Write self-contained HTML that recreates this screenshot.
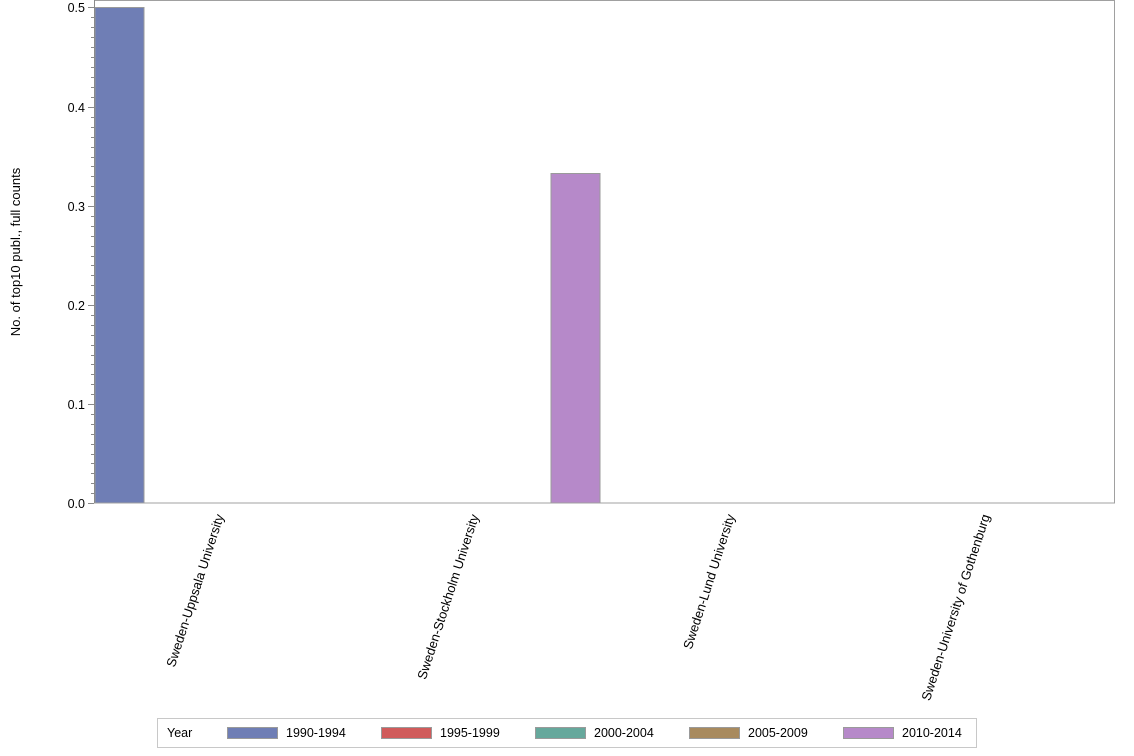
<!DOCTYPE html>
<html><head><style>
html,body{margin:0;padding:0;background:#fff;}
svg{display:block;font-family:"Liberation Sans",Arial,sans-serif;}
</style></head><body>
<svg width="1134" height="756" viewBox="0 0 1134 756" xmlns="http://www.w3.org/2000/svg">
<rect x="0" y="0" width="1134" height="756" fill="#fff"/>
<rect x="95" y="7.5" width="49" height="495.5" fill="#6f7eb5" stroke="#9a9a9a" stroke-width="1"/>
<rect x="551" y="173.5" width="49" height="329.5" fill="#b689c9" stroke="#9a9a9a" stroke-width="1"/>
<rect x="94.5" y="0.5" width="1020" height="502.5" fill="none" stroke="#a0a0a0" stroke-width="1"/>
<g stroke="#8a8a8a" stroke-width="1">
<line x1="94.5" y1="0" x2="94.5" y2="503"/>
<line x1="88" y1="503.5" x2="94" y2="503.5"/>
<line x1="88" y1="404.5" x2="94" y2="404.5"/>
<line x1="88" y1="305.5" x2="94" y2="305.5"/>
<line x1="88" y1="206.5" x2="94" y2="206.5"/>
<line x1="88" y1="107.5" x2="94" y2="107.5"/>
<line x1="88" y1="7.5" x2="94" y2="7.5"/>
</g>
<g font-size="12.5" fill="#000" text-anchor="end">
<text x="85" y="508">0.0</text>
<text x="85" y="409">0.1</text>
<text x="85" y="310">0.2</text>
<text x="85" y="211">0.3</text>
<text x="85" y="112">0.4</text>
<text x="85" y="12">0.5</text>
</g>
<text transform="translate(20,252) rotate(-90)" font-size="13" text-anchor="middle">No. of top10 publ., full counts</text>
<g font-size="13" text-anchor="end">
<text transform="translate(224,516) rotate(-72)">Sweden-Uppsala University</text>
<text transform="translate(479,516) rotate(-72)">Sweden-Stockholm University</text>
<text transform="translate(735,516) rotate(-72)">Sweden-Lund University</text>
<text transform="translate(990,516) rotate(-72)">Sweden-University of Gothenburg</text>
</g>
<rect x="157.5" y="718.5" width="819" height="29" fill="#fff" stroke="#c8c8c8"/>
<g font-size="12.5">
<text x="167" y="737">Year</text>
<rect x="227.5" y="727.5" width="50" height="11" fill="#6f7eb5" stroke="#9a9a9a"/>
<text x="286" y="737">1990-1994</text>
<rect x="381.5" y="727.5" width="50" height="11" fill="#d05b5b" stroke="#9a9a9a"/>
<text x="440" y="737">1995-1999</text>
<rect x="535.5" y="727.5" width="50" height="11" fill="#66a89c" stroke="#9a9a9a"/>
<text x="594" y="737">2000-2004</text>
<rect x="689.5" y="727.5" width="50" height="11" fill="#a88a5e" stroke="#9a9a9a"/>
<text x="748" y="737">2005-2009</text>
<rect x="843.5" y="727.5" width="50" height="11" fill="#b689c9" stroke="#9a9a9a"/>
<text x="902" y="737">2010-2014</text>
</g>
<g stroke="#8a8a8a" stroke-width="1">
<path d="M91 17.5h3M91 27.5h3M91 37.5h3M91 47.5h3M91 57.5h3M91 67.5h3M91 77.5h3M91 87.5h3M91 97.5h3
M91 117.5h3M91 127.5h3M91 137.5h3M91 147.5h3M91 157.5h3M91 166.5h3M91 176.5h3M91 186.5h3M91 196.5h3
M91 216.5h3M91 226.5h3M91 236.5h3M91 246.5h3M91 256.5h3M91 265.5h3M91 275.5h3M91 285.5h3M91 295.5h3
M91 315.5h3M91 325.5h3M91 335.5h3M91 345.5h3M91 355.5h3M91 364.5h3M91 374.5h3M91 384.5h3M91 394.5h3
M91 414.5h3M91 424.5h3M91 434.5h3M91 444.5h3M91 454.5h3M91 463.5h3M91 473.5h3M91 483.5h3M91 493.5h3"/>
</g>
</svg>
</body></html>
